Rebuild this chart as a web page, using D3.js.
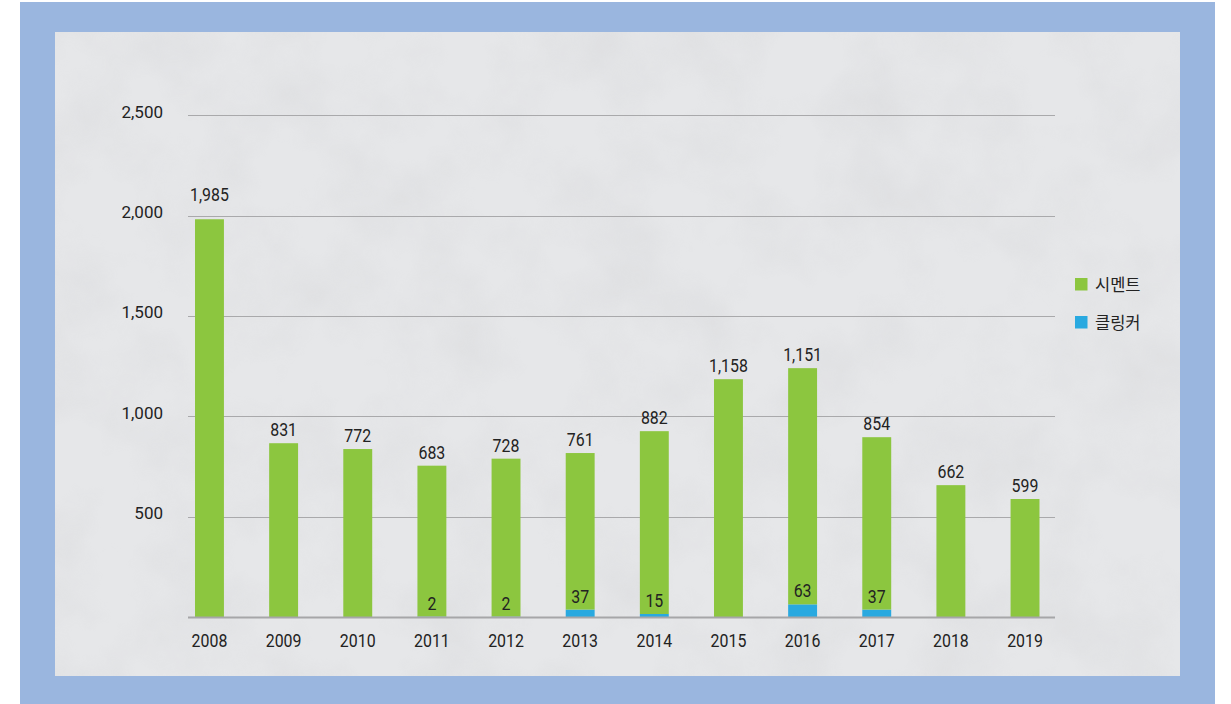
<!DOCTYPE html>
<html>
<head>
<meta charset="utf-8">
<title>시멘트 / 클링커</title>
<style>
  body { margin: 0; background: #fff; }
  svg { display: block; font-family: Roboto, "Noto Sans CJK KR", sans-serif; }
</style>
<script src="https://cdn.jsdelivr.net/npm/d3@7"></script>
</head>
<body>
<svg width="1231" height="704"></svg>
<script>
// data
var years = ["2008", "2009", "2010", "2011", "2012", "2013", "2014", "2015", "2016", "2017", "2018", "2019"];
var cementLabels = [1985, 831, 772, 683, 728, 761, 882, 1158, 1151, 854, 662, 599];
// green segment lengths as they are drawn in the original (not quite the printed numbers)
var cementBars = [1982, 866, 837, 752, 787, 780, 911, 1185, 1177, 859, 657, 588];
var clinker = [0, 0, 0, 2, 2, 37, 15, 0, 63, 37, 0, 0];
var yTicks = [500, 1000, 1500, 2000, 2500];
var legendNames = ["시멘트", "클링커"];

var green = "#8cc63f", blue = "#29a9e0";

var svg = d3.select("svg");

// frame + panel
svg.append("rect").attr("x", 20).attr("y", 2).attr("width", 1195).attr("height", 702).attr("fill", "#9ab6df");

var defs = svg.append("defs");
var f = defs.append("filter").attr("id", "paper").attr("x", 0).attr("y", 0).attr("width", "100%").attr("height", "100%");
f.append("feTurbulence").attr("type", "fractalNoise").attr("baseFrequency", "0.012").attr("numOctaves", 4).attr("seed", 7);
f.append("feColorMatrix").attr("type", "matrix")
  .attr("values", "0 0 0 0 0.5  0 0 0 0 0.5  0 0 0 0 0.52  0.9 0 0 0 -0.35");
f.append("feComposite").attr("in2", "SourceGraphic").attr("operator", "in");

svg.append("rect").attr("x", 55).attr("y", 32).attr("width", 1125).attr("height", 644).attr("fill", "#e6e7e9");
svg.append("rect").attr("x", 55).attr("y", 32).attr("width", 1125).attr("height", 644)
  .attr("fill", "#fff").attr("opacity", 0.35).attr("filter", "url(#paper)");

var x = d3.scaleBand()
    .domain(years)
    .range([172.4, 1062.1])
    .paddingInner(0.61)
    .paddingOuter(0.305);

var y = d3.scaleLinear()
    .domain([0, 2500])
    .range([617, 115.3]);

var g = svg.append("g");

// the original's numbers are set in a slightly condensed face
var sx = 0.86;
function place(px, py) { return "translate(" + px + "," + py + ") scale(" + sx + ",1)"; }

// grid
g.append("g").selectAll("line")
  .data(yTicks)
  .enter().append("line")
    .attr("x1", 188).attr("x2", 1055)
    .attr("y1", function(d) { return Math.round(y(d)) + 0.5; })
    .attr("y2", function(d) { return Math.round(y(d)) + 0.5; })
    .attr("stroke", "#a9a9ab").attr("stroke-width", 1);

g.append("g").selectAll("text")
  .data(yTicks)
  .enter().append("text")
    .attr("x", 163)
    .attr("y", function(d) { return y(d) + 2.5; })
    .attr("text-anchor", "end")
    .attr("font-size", 17)
    .attr("fill", "#222")
    .text(function(d) { return d3.format(",")(d); });

var rows = years.map(function(yr, i) {
  return {year: yr, clinker: clinker[i], cement: cementBars[i], label: cementLabels[i]};
});

// clinker (bottom)
g.append("g").selectAll("rect")
  .data(rows.filter(function(d) { return d.clinker > 0; }))
  .enter().append("rect")
    .attr("x", function(d) { return x(d.year); })
    .attr("y", function(d) { return y(d.clinker); })
    .attr("width", x.bandwidth())
    .attr("height", function(d) { return y(0) - y(d.clinker); })
    .attr("fill", blue);

// cement (stacked on top)
g.append("g").selectAll("rect")
  .data(rows)
  .enter().append("rect")
    .attr("x", function(d) { return x(d.year); })
    .attr("y", function(d) { return y(d.clinker + d.cement); })
    .attr("width", x.bandwidth())
    .attr("height", function(d) { return y(d.clinker) - y(d.clinker + d.cement); })
    .attr("fill", green);

// baseline
g.append("line")
  .attr("x1", 188).attr("x2", 1055)
  .attr("y1", y(0) + 0.5).attr("y2", y(0) + 0.5)
  .attr("stroke", "#a6a6a8").attr("stroke-width", 2);

// x labels
g.append("g").selectAll("text")
  .data(years)
  .enter().append("text")
    .attr("transform", function(d) { return place(x(d) + x.bandwidth() / 2, 647); })
    .attr("text-anchor", "middle")
    .attr("font-size", 18.5)
    .attr("fill", "#222")
    .text(function(d) { return d; });

// cement value labels; lift above a gridline if one sits right on top of the bar
function cementLabelY(d) {
  var top = y(d.clinker + d.cement);
  var base = top - 7;
  yTicks.forEach(function(t) {
    var gy = y(t);
    if (gy > base && gy < top) base = gy - 15;
  });
  return base;
}

g.append("g").selectAll("text")
  .data(rows)
  .enter().append("text")
    .attr("transform", function(d) { return place(x(d.year) + x.bandwidth() / 2, cementLabelY(d)); })
    .attr("text-anchor", "middle")
    .attr("font-size", 18.5)
    .attr("fill", "#222")
    .text(function(d) { return d3.format(",")(d.label); });

g.append("g").selectAll("text")
  .data(rows.filter(function(d) { return d.clinker > 0; }))
  .enter().append("text")
    .attr("transform", function(d) { return place(x(d.year) + x.bandwidth() / 2, y(d.clinker) - 7); })
    .attr("text-anchor", "middle")
    .attr("font-size", 18.5)
    .attr("fill", "#222")
    .text(function(d) { return d.clinker; });

// legend
var legend = svg.append("g").selectAll("g")
  .data(legendNames)
  .enter().append("g")
    .attr("transform", function(d, i) { return "translate(1075," + (278 + i * 38) + ")"; });

legend.append("rect")
  .attr("width", 12.5).attr("height", 12.5)
  .attr("fill", function(d, i) { return i == 0 ? green : blue; });

legend.append("text")
  .attr("x", 20)
  .attr("y", 12.5)
  .attr("font-size", 16.5)
  .attr("fill", "#222")
  .text(function(d) { return d; });
</script>
</body>
</html>
